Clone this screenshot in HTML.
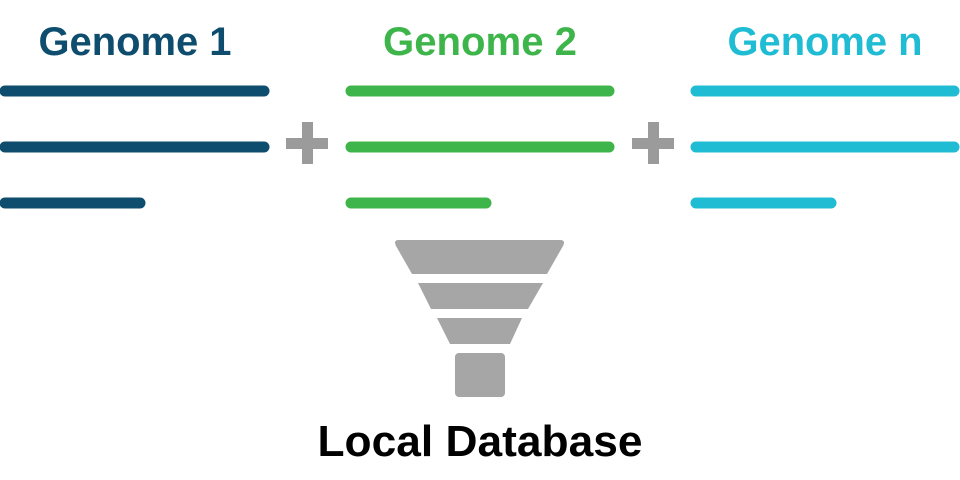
<!DOCTYPE html>
<html><head><style>
html,body{margin:0;padding:0;background:#fff;width:960px;height:480px;overflow:hidden}
</style></head><body>
<svg width="960" height="480" xmlns="http://www.w3.org/2000/svg" font-family="Liberation Sans, sans-serif" font-weight="bold">
<g stroke-linecap="round" stroke-width="11">
<g stroke="#0e4d6e"><line x1="5" y1="91" x2="264" y2="91"/><line x1="5" y1="147" x2="264" y2="147"/><line x1="5" y1="203" x2="140" y2="203"/></g>
<g stroke="#3db54a"><line x1="351" y1="91" x2="609" y2="91"/><line x1="351" y1="147" x2="609" y2="147"/><line x1="351" y1="203" x2="486" y2="203"/></g>
<g stroke="#1fbcd4"><line x1="696" y1="91" x2="954" y2="91"/><line x1="696" y1="147" x2="954" y2="147"/><line x1="696" y1="203" x2="831" y2="203"/></g>
</g>
<g fill="#9b9b9b">
<rect x="286" y="138" width="42" height="11"/><rect x="302" y="122" width="11" height="42"/>
<rect x="632" y="138" width="42" height="11"/><rect x="648" y="122" width="11" height="42"/>
</g>
<text x="135" y="55" font-size="40" fill="#0e4d6e" text-anchor="middle" textLength="193" lengthAdjust="spacingAndGlyphs">Genome 1</text>
<text x="480" y="55" font-size="40" fill="#3db54a" text-anchor="middle" textLength="194" lengthAdjust="spacingAndGlyphs">Genome 2</text>
<text x="825" y="55" font-size="40" fill="#1fbcd4" text-anchor="middle" textLength="195" lengthAdjust="spacingAndGlyphs">Genome n</text>
<g fill="#a6a6a6">
<path d="M399 240 H560 Q566 240 563 246 L547 274 H412 L396 246 Q393 240 399 240Z"/>
<path d="M418 283 H543 L528 309 H431Z"/>
<path d="M437 318 H522 L510 344 H450Z"/>
<rect x="455" y="353" width="50" height="44" rx="4"/>
</g>
<text x="480" y="456" font-size="44" fill="#000" text-anchor="middle" textLength="325" lengthAdjust="spacingAndGlyphs">Local Database</text>
</svg>
</body></html>
